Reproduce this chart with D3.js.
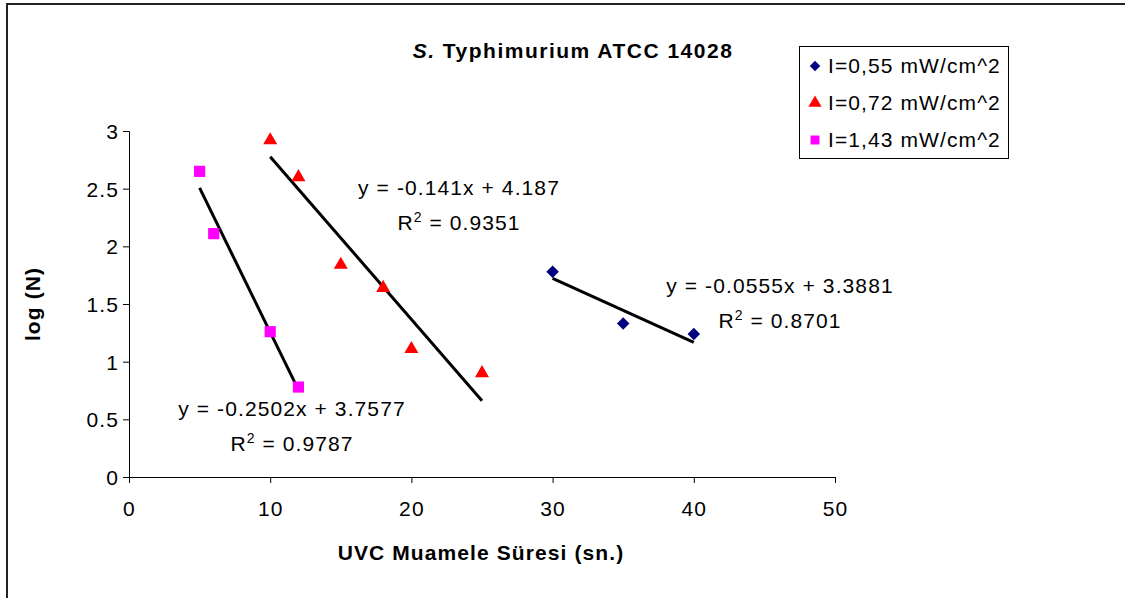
<!DOCTYPE html>
<html>
<head>
<meta charset="utf-8">
<script src="https://cdn.jsdelivr.net/npm/d3@7"></script>
<style>
  html, body { margin: 0; padding: 0; background: #fff; }
  svg text { font-family: "Liberation Sans", Arial, sans-serif; fill: #000; }
</style>
</head>
<body>
<svg id="chart" width="1125" height="598"></svg>
<script>
// ---- data ----
const seriesNames = ["I=0,55 mW/cm^2", "I=0,72 mW/cm^2", "I=1,43 mW/cm^2"];
const s1x = [30, 35, 40];
const s1y = [1.78, 1.33, 1.24];
const s2x = [10, 12, 15, 18, 20, 25];
const s2y = [2.92, 2.60, 1.84, 1.64, 1.11, 0.90];
const s3x = [5, 6, 10, 12];
const s3y = [2.65, 2.11, 1.26, 0.78];
const slopes = [-0.0555, -0.141, -0.2502];
const intercepts = [3.3881, 4.187, 3.7577];
const eqLabels = ["y = -0.0555x + 3.3881", "y = -0.141x + 4.187", "y = -0.2502x + 3.7577"];
const r2Labels = ["0.8701", "0.9351", "0.9787"];
const xTicks = [0, 10, 20, 30, 40, 50];
const yTicks = [0, 0.5, 1, 1.5, 2, 2.5, 3];
const titleItalic = "S.";
const titleRest = " Typhimurium ATCC 14028";
const xTitle = "UVC Muamele Süresi (sn.)";
const yTitle = "log (N)";

// ---- layout ----
const svg = d3.select("#chart");
const FS = 21, LS = "1.1px";
const x = d3.scaleLinear().domain([0, 50]).range([129, 835]);
const y = d3.scaleLinear().domain([0, 3]).range([477, 131]);

// outer frame
svg.append("rect").attr("x", 7).attr("y", 4).attr("width", 1200).attr("height", 700)
  .attr("fill", "none").attr("stroke", "#222").attr("stroke-width", 2);

// axes
const xAxis = d3.axisBottom(x).tickValues(xTicks).tickSize(6).tickPadding(18).tickFormat(d3.format("d"));
const gx = svg.append("g").attr("transform", "translate(0,477)").call(xAxis);
const yAxis = d3.axisLeft(y).tickValues(yTicks).tickSize(6).tickPadding(4).tickFormat(d => String(d));
const gy = svg.append("g").attr("transform", "translate(129,0)").call(yAxis);
[gx, gy].forEach(g => {
  g.select(".domain").attr("stroke", "#000").attr("stroke-width", 1);
  g.selectAll(".tick line").attr("stroke", "#000");
  g.selectAll(".tick text").attr("font-size", FS).style("letter-spacing", LS)
    .attr("font-family", "Liberation Sans, Arial, sans-serif");
});
gy.selectAll(".tick text").attr("dy", "0.36em");

// trend lines
const xs = [s1x, s2x, s3x];
const ys = [s1y, s2y, s3y];
xs.forEach((xv, i) => {
  const x0 = d3.min(xv), x1 = d3.max(xv);
  svg.append("line")
    .attr("x1", x(x0)).attr("y1", y(slopes[i] * x0 + intercepts[i]))
    .attr("x2", x(x1)).attr("y2", y(slopes[i] * x1 + intercepts[i]))
    .attr("stroke", "#000").attr("stroke-width", 3);
});

// markers
const colors = ["#000080", "#FF0000", "#FF00FF"];
const symbols = [
  d3.symbol().type(d3.symbolDiamond2).size(100),
  d3.symbol().type(d3.symbolTriangle).size(85),
  d3.symbol().type(d3.symbolSquare).size(125)
];
xs.forEach((xv, i) => {
  svg.append("g").selectAll("path").data(xv.map((d, j) => [d, ys[i][j]])).join("path")
    .attr("d", symbols[i])
    .attr("transform", d => `translate(${x(d[0])},${y(d[1])})`)
    .attr("fill", colors[i]);
});

// equation labels
const eqPos = [[780, 293], [459, 195], [292, 416]];
eqPos.forEach((p, i) => {
  svg.append("text").attr("x", p[0]).attr("y", p[1]).attr("text-anchor", "middle")
    .attr("font-size", FS).style("letter-spacing", LS).text(eqLabels[i]);
  const t = svg.append("text").attr("x", p[0]).attr("y", p[1] + 35).attr("text-anchor", "middle")
    .attr("font-size", FS).style("letter-spacing", LS);
  t.append("tspan").text("R");
  t.append("tspan").attr("dy", -8).attr("font-size", 14).text("2");
  t.append("tspan").attr("dy", 8).text(" = " + r2Labels[i]);
});

// title
const title = svg.append("text").attr("x", 573).attr("y", 58).attr("text-anchor", "middle")
  .attr("font-size", FS).attr("font-weight", "bold").style("letter-spacing", "1.5px");
title.append("tspan").attr("font-style", "italic").text(titleItalic);
title.append("tspan").text(titleRest);

// axis titles
svg.append("text").attr("x", 481).attr("y", 560).attr("text-anchor", "middle")
  .attr("font-size", FS).attr("font-weight", "bold").style("letter-spacing", LS).text(xTitle);
svg.append("text").attr("transform", "translate(40,304) rotate(-90)").attr("text-anchor", "middle")
  .attr("font-size", FS).attr("font-weight", "bold").style("letter-spacing", LS).text(yTitle);

// legend
svg.append("rect").attr("x", 799.5).attr("y", 46.5).attr("width", 209).attr("height", 112)
  .attr("fill", "#fff").attr("stroke", "#000").attr("stroke-width", 1);
const legSym = [
  d3.symbol().type(d3.symbolDiamond2).size(70),
  d3.symbol().type(d3.symbolTriangle).size(75),
  d3.symbol().type(d3.symbolSquare).size(80)
];
const legY = [73, 110, 147];
seriesNames.forEach((n, i) => {
  svg.append("path").attr("d", legSym[i])
    .attr("transform", `translate(815,${legY[i] - 7})`).attr("fill", colors[i]);
  svg.append("text").attr("x", 828).attr("y", legY[i]).attr("font-size", FS)
    .style("letter-spacing", LS).text(n);
});
</script>
</body>
</html>
